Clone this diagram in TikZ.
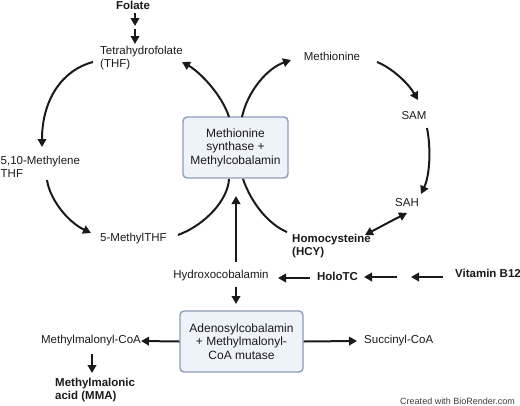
\documentclass[tikz,border=0pt]{standalone}
\usepackage{fontspec}
\setmainfont{Liberation Sans}
\usetikzlibrary{arrows.meta}
\definecolor{ink}{HTML}{1A1A1A}
\definecolor{boxfill}{HTML}{EEF2F9}
\definecolor{boxline}{HTML}{8D9CBA}
\tikzset{
  lbl/.style={inner sep=0pt, text=ink, font=\fontsize{11.5}{13}\selectfont},
  blbl/.style={lbl, font=\fontsize{11.5}{13}\selectfont\bfseries},
  enzyme/.style={draw=boxline, fill=boxfill, line width=1.4pt, rounded corners=4pt, align=center, text=ink, font=\fontsize{12}{13.5}\selectfont, inner sep=0pt},
  arr/.style={draw=ink, line width=2pt, -{Triangle[length=8pt,width=8.5pt]}},
  dbl/.style={draw=ink, line width=2pt, {Triangle[length=8pt,width=8.5pt]}-{Triangle[length=8pt,width=8.5pt]}},
  ln/.style={draw=ink, line width=2pt},
}
\begin{document}
\begin{tikzpicture}[x=1pt,y=-1pt]
\useasboundingbox (0,0) rectangle (520,405);
% enzyme boxes
\node[enzyme, minimum width=105pt, minimum height=61pt] (ms) at (235.5,147.5) {Methionine\\synthase +\\Methylcobalamin};
\node[enzyme, minimum width=123pt, minimum height=61pt] (mut) at (241.5,341.5) {Adenosylcobalamin\\+ Methylmalonyl-\\CoA mutase};
% labels
\node[blbl] (folate) at (133,5) {Folate};
\node[lbl, anchor=west, align=left] (thf) at (100,58.5) {Tetrahydrofolate\\(THF)};
\node[lbl, anchor=west, align=left] (mthf) at (0.5,166.5) {5,10-Methylene\\THF};
\node[lbl, anchor=west] (fmthf) at (100,239) {5-MethylTHF};
\node[lbl] (met) at (332,56) {Methionine};
\node[lbl] (sam) at (414,116) {SAM};
\node[lbl] (sah) at (407,203) {SAH};
\node[blbl, anchor=west, align=left] (hcy) at (292,246.5) {Homocysteine\\(HCY)};
\node[lbl] (hydroxo) at (221,276) {Hydroxocobalamin};
\node[blbl] (holo) at (337.5,276) {HoloTC};
\node[blbl] (b12) at (488,273) {Vitamin B12};
\node[lbl] (mmcoa) at (91,341) {Methylmalonyl-CoA};
\node[blbl, anchor=west, align=left] (mma) at (55,390) {Methylmalonic\\acid (MMA)};
\node[lbl, anchor=west] (succ) at (364,341) {Succinyl-CoA};
\node[inner sep=0pt, anchor=east, text=ink!85, font=\fontsize{9}{10}\selectfont] (credit) at (515,401) {Created with BioRender.com};
% helper coordinates
\coordinate (f1) at (135,13); \coordinate (f2) at (135,26);
\coordinate (f3) at (135,29); \coordinate (f4) at (135,44);
\coordinate (a1s) at (93,62);   \coordinate (a1e) at (42,147);
\coordinate (a2s) at (47,180);  \coordinate (a2e) at (91,233);
\coordinate (a3s) at (178,235); \coordinate (a3e) at (229,179);
\coordinate (a4s) at (229,117); \coordinate (a4e) at (182,62);
\coordinate (a5s) at (242,117); \coordinate (a5e) at (291,60);
\coordinate (a6s) at (243,179); \coordinate (a6e) at (287,232);
\coordinate (a7s) at (377,62);  \coordinate (a7e) at (418,100);
\coordinate (a8s) at (427,128); \coordinate (a8e) at (421,194);
\coordinate (d1) at (365,235);  \coordinate (d2) at (407,213);
\coordinate (v1s) at (397,277); \coordinate (v1e) at (364,277);
\coordinate (v2s) at (443,277); \coordinate (v2e) at (411,277);
\coordinate (h1) at (310,278);  \coordinate (h2) at (278,278);
\coordinate (u1) at (236,262);  \coordinate (u2) at (236,196);
\coordinate (w1) at (236,287);  \coordinate (w2) at (236,304);
\coordinate (m1) at (92,354);   \coordinate (m2) at (92,373);
\coordinate (s1) at (357,341);  \coordinate (c1) at (141,341);
% folate arrows
\draw[arr] (f1) -- (f2);
\draw[arr] (f3) -- (f4);
% folate cycle
\draw[arr] (a1s) .. controls (62,70) and (42,100) .. (a1e);
\draw[arr] (a2s) .. controls (50,200) and (68,222) .. (a2e);
\draw[ln] (a3s) .. controls (205,225) and (228,200) .. (a3e);
\draw[arr] (a4s) .. controls (222,95) and (200,72) .. (a4e);
% methionine cycle
\draw[arr] (a5s) .. controls (248,90) and (268,68) .. (a5e);
\draw[ln] (a6s) .. controls (252,205) and (270,225) .. (a6e);
\draw[arr] (a7s) .. controls (392,68) and (408,83) .. (a7e);
\draw[arr] (a8s) .. controls (431,148) and (430,175) .. (a8e);
\draw[dbl] (d1) .. controls (380,227) and (393,220) .. (d2);
% B12 path
\draw[arr] (v2s) -- (v2e);
\draw[arr] (v1s) -- (v1e);
\draw[arr] (h1) -- (h2);
\draw[arr] (u1) -- (u2);
\draw[arr] (w1) -- (w2);
\draw[arr] (mut.west) -- (c1);
\draw[arr] (mut.east) -- (s1);
\draw[arr] (m1) -- (m2);
\end{tikzpicture}
\end{document}
